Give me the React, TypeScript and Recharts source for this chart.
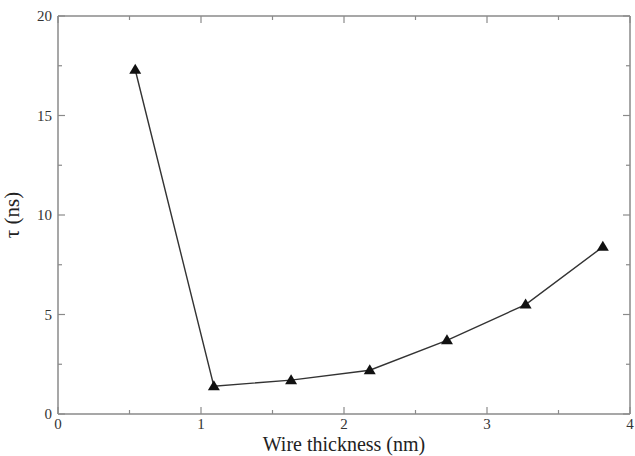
import { LineChart, Line, XAxis, YAxis, ReferenceLine } from 'recharts'

const thickness = [0.54, 1.09, 1.63, 2.18, 2.72, 3.27, 3.81]
const tau = [17.3, 1.4, 1.7, 2.2, 3.7, 5.5, 8.4]
const xTicks = [0, 0.5, 1, 1.5, 2, 2.5, 3, 3.5, 4]
const yTicks = [0, 2.5, 5, 7.5, 10, 12.5, 15, 17.5, 20]

const data = thickness.map((t, i) => ({ t, tau: tau[i] }))

const AXIS = '#8a8a8a'
const FONT = '"Liberation Serif", "DejaVu Serif", serif'

// plot box (from the chart margins below)
const W = 635
const H = 456
const M = { top: 16, right: 5, bottom: 42, left: 58 }
const TOP = M.top
const BOTTOM = H - M.bottom
const LEFT = M.left
const RIGHT = W - M.right

// ticks point inward on all four sides, as in the original plot
const XTick = (props: any) => {
  const { x, payload } = props
  const major = Number.isInteger(payload.value)
  const len = major ? 7 : 4
  return (
    <g>
      <line x1={x} x2={x} y1={BOTTOM} y2={BOTTOM - len} stroke={AXIS} strokeWidth={1.2} />
      <line x1={x} x2={x} y1={TOP} y2={TOP + len} stroke={AXIS} strokeWidth={1.2} />
      {major && (
        <text x={x} y={BOTTOM + 15} textAnchor="middle" fontSize={15} fontFamily={FONT} fill="#333">
          {payload.value}
        </text>
      )}
    </g>
  )
}

const YTick = (props: any) => {
  const { y, payload } = props
  const major = payload.value % 5 === 0
  const len = major ? 7 : 4
  return (
    <g>
      <line x1={LEFT} x2={LEFT + len} y1={y} y2={y} stroke={AXIS} strokeWidth={1.2} />
      <line x1={RIGHT} x2={RIGHT - len} y1={y} y2={y} stroke={AXIS} strokeWidth={1.2} />
      {major && (
        <text x={LEFT - 6} y={y + 5} textAnchor="end" fontSize={15} fontFamily={FONT} fill="#333">
          {payload.value}
        </text>
      )}
    </g>
  )
}

const Triangle = (props: any) => {
  const { cx, cy } = props
  if (cx == null || cy == null) return null
  return <path d={`M${cx},${cy - 6} L${cx + 6},${cy + 4} L${cx - 6},${cy + 4} Z`} fill="#111" />
}

export default function App() {
  document.body.style.margin = '0'
  return (
    <div style={{ width: W, height: H, background: '#fff' }}>
      <LineChart width={W} height={H} data={data} margin={{ top: M.top, right: M.right, bottom: 0, left: 0 }}>
        <XAxis
          dataKey="t"
          type="number"
          domain={[0, 4]}
          ticks={xTicks}
          interval={0}
          height={M.bottom}
          tickLine={false}
          tick={XTick}
          stroke={AXIS}
          strokeWidth={1.5}
          label={{
            value: 'Wire thickness (nm)',
            position: 'insideBottom',
            offset: 5,
            fontSize: 20,
            fontFamily: FONT,
            fill: '#222',
          }}
        />
        <YAxis
          type="number"
          domain={[0, 20]}
          ticks={yTicks}
          interval={0}
          width={M.left}
          tickLine={false}
          tick={YTick}
          stroke={AXIS}
          strokeWidth={1.5}
          label={{
            value: 'τ (ns)',
            angle: -90,
            position: 'insideLeft',
            offset: 12,
            fontSize: 21,
            fontFamily: FONT,
            fill: '#222',
            style: { textAnchor: 'middle' },
          }}
        />
        <ReferenceLine y={20} stroke={AXIS} strokeWidth={1.5} />
        <ReferenceLine x={4} stroke={AXIS} strokeWidth={1.5} />
        <Line
          dataKey="tau"
          type="linear"
          stroke="#333"
          strokeWidth={1.4}
          dot={Triangle}
          activeDot={false}
          isAnimationActive={false}
        />
      </LineChart>
    </div>
  )
}
